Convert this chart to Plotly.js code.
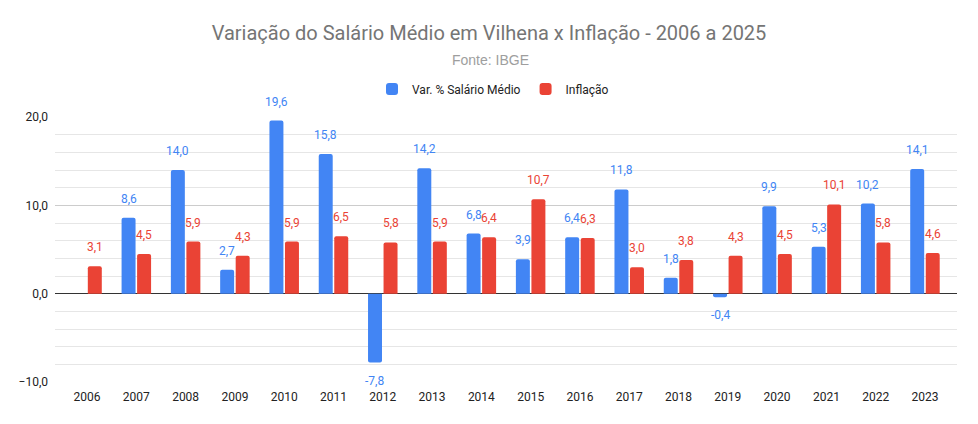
<!DOCTYPE html>
<html>
<head>
<meta charset="utf-8">
<script src="https://cdn.plot.ly/plotly-3.0.1.min.js"></script>
<style>
  html, body { margin: 0; padding: 0; background: #fff; }
  #chart { width: 978px; height: 424px; }
</style>
</head>
<body>
<div id="chart"></div>
<script>
// Data
var anos = ["2006", "2007", "2008", "2009", "2010", "2011", "2012", "2013", "2014",
  "2015", "2016", "2017", "2018", "2019", "2020", "2021", "2022", "2023"];
var salario = [null, 8.6, 14.0, 2.7, 19.6, 15.8, -7.8, 14.2, 6.8,
  3.9, 6.4, 11.8, 1.8, -0.4, 9.9, 5.3, 10.2, 14.1];
var inflacao = [3.1, 4.5, 5.9, 4.3, 5.9, 6.5, 5.8, 5.9, 6.4,
  10.7, 6.3, 3.0, 3.8, 4.3, 4.5, 10.1, 5.8, 4.6];
var yTicks = [-10, 0, 10, 20];

var azul = '#4285F4';
var vermelho = '#EA4335';

// format with comma decimal
function fmt(v) {
  return v.toFixed(1).replace('.', ',');
}

var traceSal = {
  x: anos,
  y: salario,
  name: 'Var. % Salário Médio',
  type: 'bar',
  marker: {color: azul, cornerradius: 2},
  hoverinfo: 'x+y'
};

var traceInf = {
  x: anos,
  y: inflacao,
  name: 'Inflação',
  type: 'bar',
  marker: {color: vermelho, cornerradius: 2},
  hoverinfo: 'x+y'
};

// value labels (x given as category index)
var annotations = [];
function addLabels(vals, color, dx) {
  vals.forEach(function (v, i) {
    if (v === null) return;
    annotations.push({
      x: i,
      y: v,
      xref: 'x',
      yref: 'y',
      text: fmt(v),
      showarrow: false,
      xshift: dx,
      yshift: v < 0 ? -18 : 19,
      xanchor: 'center',
      yanchor: 'middle',
      font: {family: 'Roboto, Arial, sans-serif', size: 12, color: color}
    });
  });
}
addLabels(salario, azul, -7.8);
addLabels(inflacao, vermelho, 7.8);

// subtitle
annotations.push({
  text: 'Fonte: IBGE',
  xref: 'paper',
  yref: 'paper',
  x: (490 - 55) / 902,
  y: 1 + 57 / 265,
  xanchor: 'center',
  yanchor: 'middle',
  showarrow: false,
  font: {family: 'Liberation Sans, Arial, sans-serif', size: 14, color: '#9e9e9e'}
});

var layout = {
  width: 978,
  height: 424,
  margin: {l: 55, r: 21, t: 117, b: 42},
  paper_bgcolor: '#ffffff',
  plot_bgcolor: '#ffffff',
  separators: ',.',
  font: {family: 'Roboto, Arial, sans-serif', size: 12, color: '#222222'},
  title: {
    text: 'Variação do Salário Médio em Vilhena x Inflação - 2006 a 2025',
    font: {family: 'Roboto, Arial, sans-serif', size: 20, color: '#757575'},
    x: 0.5,
    xanchor: 'center',
    y: 1 - 33 / 424,
    yanchor: 'middle'
  },
  barmode: 'group',
  bargap: 0.37,
  bargroupgap: 0.1,
  showlegend: true,
  legend: {
    orientation: 'h',
    x: (493 - 55) / 902,
    xanchor: 'center',
    y: 1 + 28 / 265,
    yanchor: 'middle',
    font: {size: 12, color: '#222222'},
    itemwidth: 30,
    tracegroupgap: 0
  },
  xaxis: {
    type: 'category',
    range: [-0.65, 17.65],
    showgrid: false,
    showline: false,
    zeroline: false,
    ticks: '',
    ticklabelstandoff: 6,
    tickfont: {size: 12, color: '#222222'},
    fixedrange: true
  },
  yaxis: {
    range: [-10, 20],
    tickvals: yTicks,
    tickformat: '.1f',
    showgrid: true,
    gridcolor: '#cccccc',
    gridwidth: 1,
    zeroline: true,
    zerolinecolor: '#333333',
    zerolinewidth: 1,
    showline: false,
    ticks: '',
    ticklabelstandoff: 6,
    tickfont: {size: 12, color: '#222222'},
    minor: {dtick: 2, showgrid: true, gridcolor: '#e6e6e6', gridwidth: 1},
    fixedrange: true
  },
  annotations: annotations
};

Plotly.newPlot('chart', [traceSal, traceInf], layout, {displayModeBar: false, staticPlot: true});
</script>
</body>
</html>
